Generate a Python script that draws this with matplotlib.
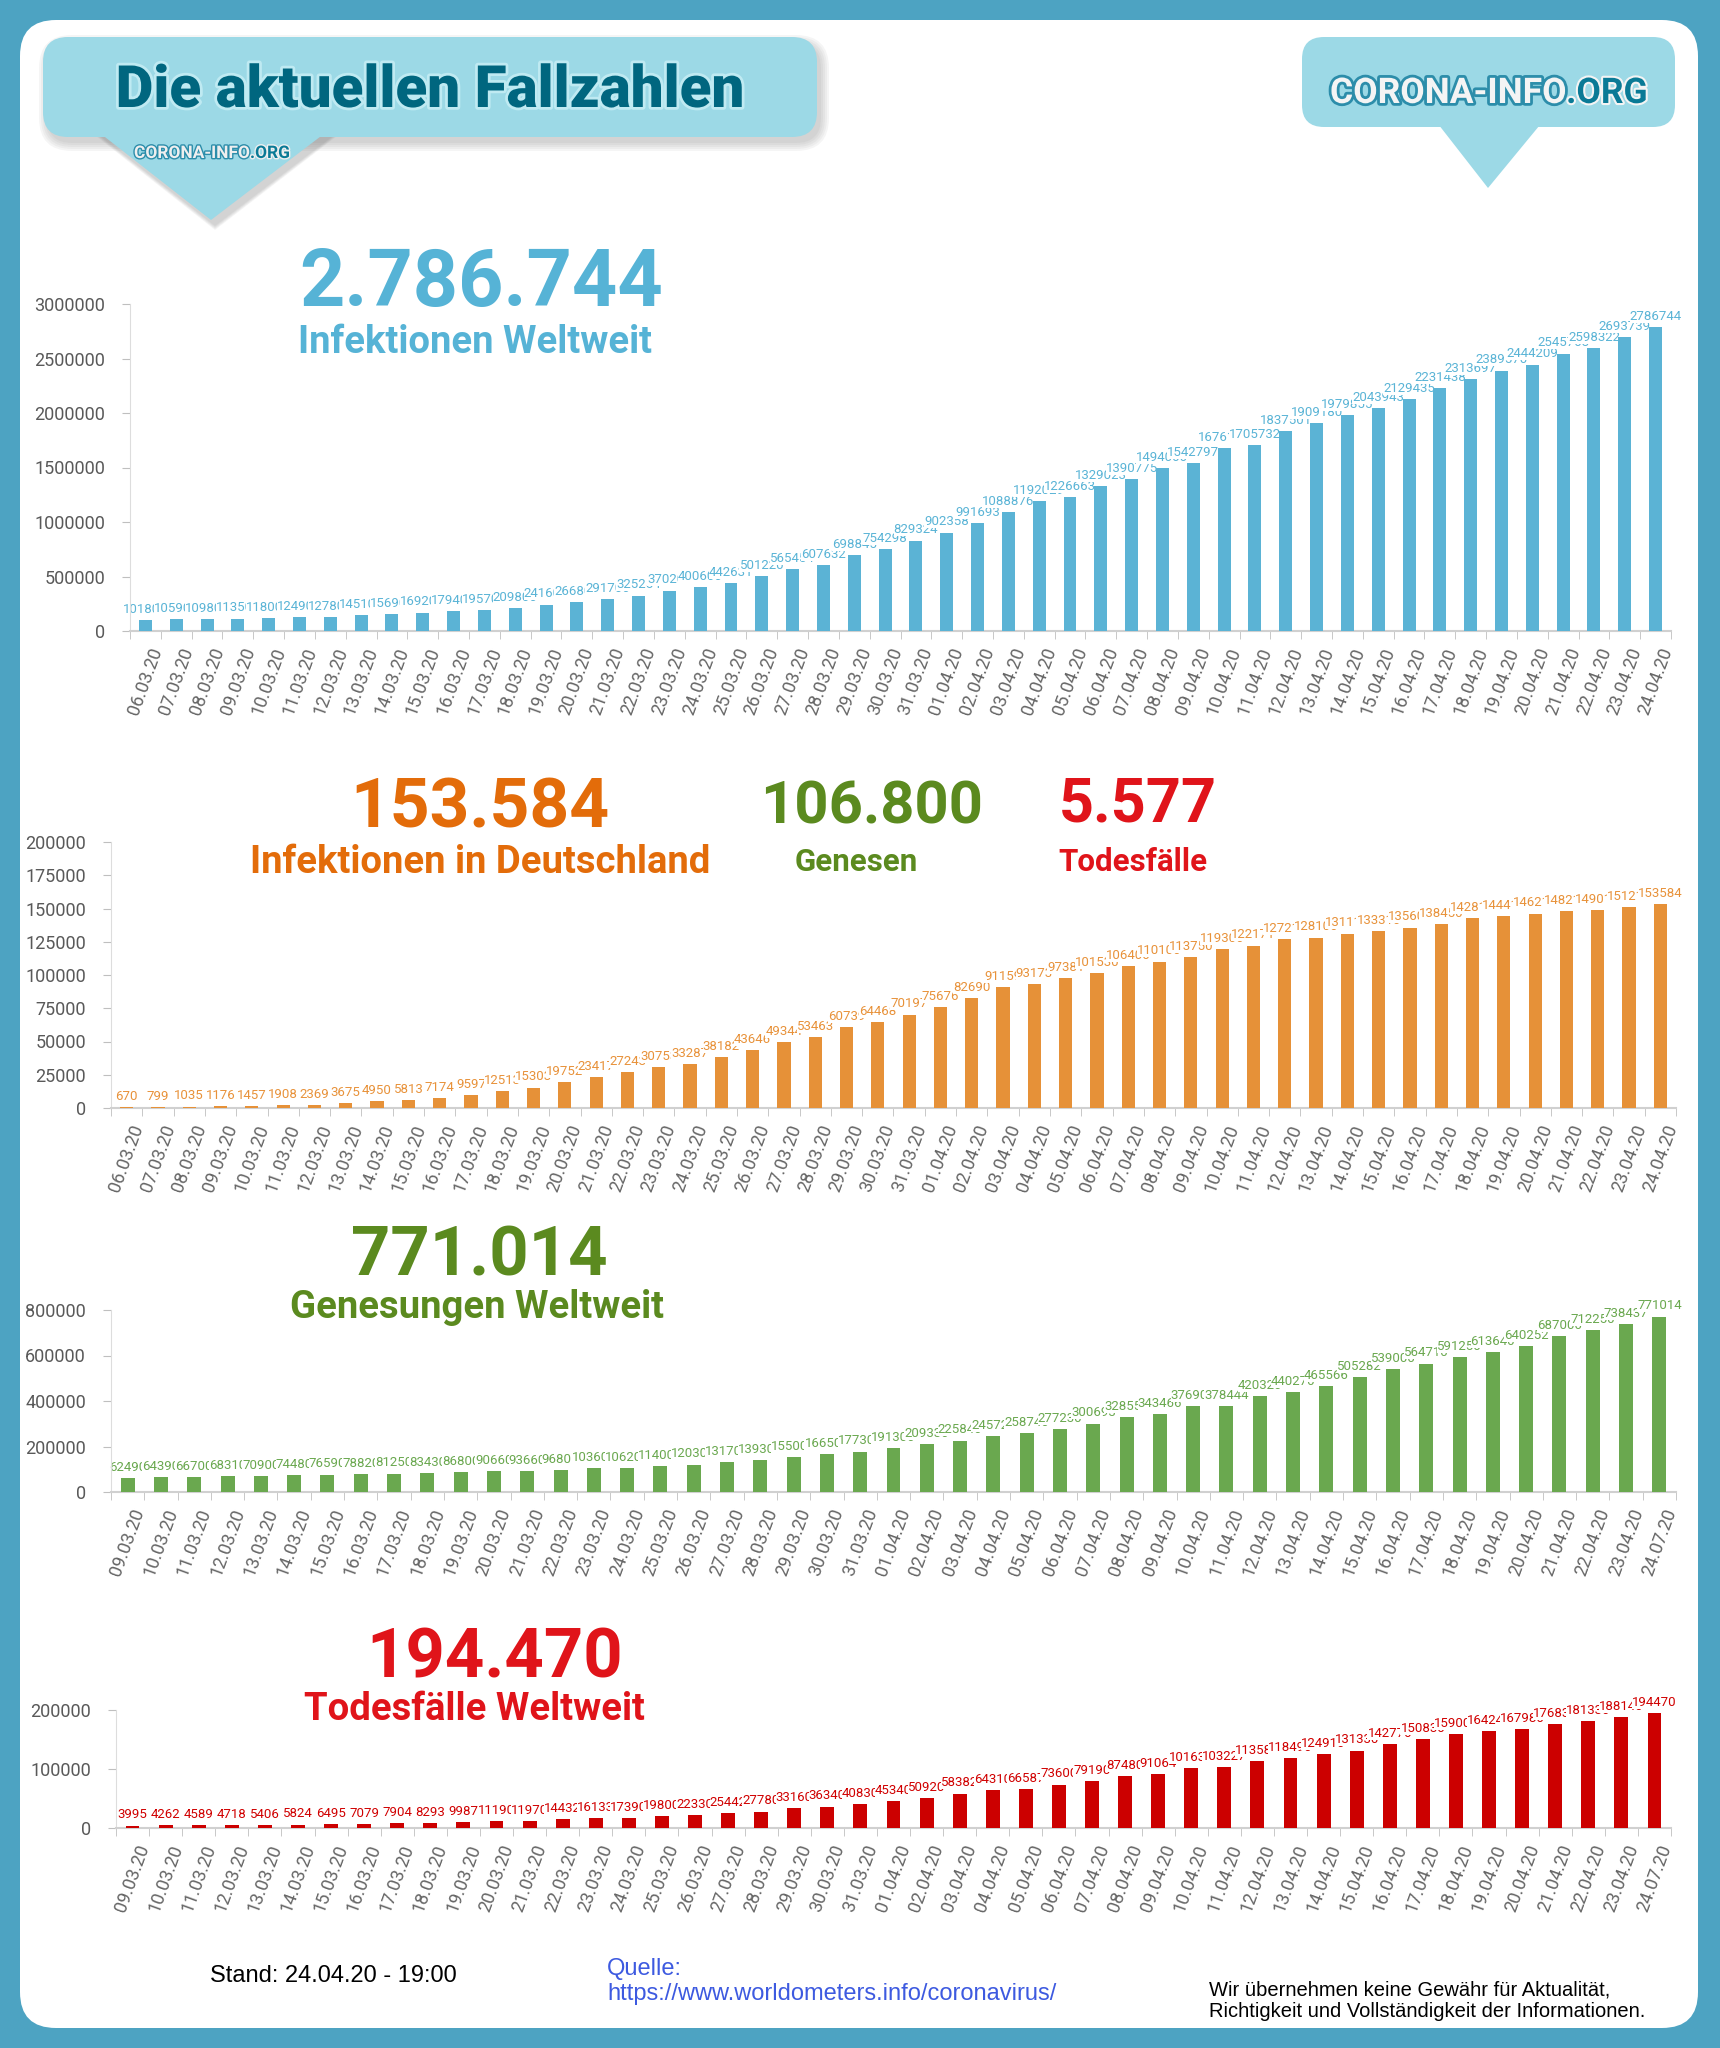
import matplotlib
matplotlib.use("Agg")
import numpy as np
import matplotlib.pyplot as plt
import matplotlib.patheffects as pe
from matplotlib.patches import FancyBboxPatch, Polygon
from matplotlib.ticker import FuncFormatter

plt.rcParams['font.family'] = ['Roboto', 'DejaVu Sans']

# ---- data ----
dates_a = ["06.03.20", "07.03.20", "08.03.20", "09.03.20", "10.03.20", "11.03.20", "12.03.20",
           "13.03.20", "14.03.20", "15.03.20", "16.03.20", "17.03.20", "18.03.20", "19.03.20",
           "20.03.20", "21.03.20", "22.03.20", "23.03.20", "24.03.20", "25.03.20", "26.03.20",
           "27.03.20", "28.03.20", "29.03.20", "30.03.20", "31.03.20", "01.04.20", "02.04.20",
           "03.04.20", "04.04.20", "05.04.20", "06.04.20", "07.04.20", "08.04.20", "09.04.20",
           "10.04.20", "11.04.20", "12.04.20", "13.04.20", "14.04.20", "15.04.20", "16.04.20",
           "17.04.20", "18.04.20", "19.04.20", "20.04.20", "21.04.20", "22.04.20", "23.04.20",
           "24.04.20"]

dates_b = ["09.03.20", "10.03.20", "11.03.20", "12.03.20", "13.03.20", "14.03.20", "15.03.20",
           "16.03.20", "17.03.20", "18.03.20", "19.03.20", "20.03.20", "21.03.20", "22.03.20",
           "23.03.20", "24.03.20", "25.03.20", "26.03.20", "27.03.20", "28.03.20", "29.03.20",
           "30.03.20", "31.03.20", "01.04.20", "02.04.20", "03.04.20", "04.04.20", "05.04.20",
           "06.04.20", "07.04.20", "08.04.20", "09.04.20", "10.04.20", "11.04.20", "12.04.20",
           "13.04.20", "14.04.20", "15.04.20", "16.04.20", "17.04.20", "18.04.20", "19.04.20",
           "20.04.20", "21.04.20", "22.04.20", "23.04.20", "24.07.20"]

infected_world = [101800, 105900, 109800, 113500, 118000, 124900, 127800, 145100, 156900, 169200,
                  179400, 195700, 209800, 241600, 266800, 291700, 325254, 370200, 400600, 442631,
                  501220, 565454, 607632, 698845, 754298, 829324, 902358, 991693, 1088876, 1192029,
                  1226663, 1329023, 1390775, 1494000, 1542797, 1676179, 1705732, 1837501, 1909180,
                  1979855, 2043943, 2129435, 2231438, 2313697, 2389570, 2444209, 2545703, 2598322,
                  2693739, 2786744]

infected_de = [670, 799, 1035, 1176, 1457, 1908, 2369, 3675, 4950, 5813, 7174, 9597, 12513, 15303,
               19752, 23417, 27243, 30753, 33287, 38182, 43646, 49344, 53463, 60739, 64468, 70197,
               75676, 82690, 91159, 93173, 97381, 101530, 106400, 110100, 113750, 119300, 122171,
               127210, 128100, 131110, 133310, 135600, 138450, 142810, 144410, 146210, 148210,
               149010, 151210, 153584]

recovered_world = [62490, 64390, 66700, 68310, 70900, 74480, 76590, 78820, 81250, 83430, 86800,
                   90660, 93660, 96800, 103600, 106200, 114000, 120300, 131700, 139300, 155000,
                   166500, 177300, 191300, 209330, 225840, 245720, 258740, 277230, 300693, 328550,
                   343466, 376900, 378444, 420320, 440270, 465566, 505282, 539000, 564710, 591250,
                   613640, 640252, 687000, 712250, 738437, 771014]

deaths_world = [3995, 4262, 4589, 4718, 5406, 5824, 6495, 7079, 7904, 8293, 9987, 11190, 11970,
                14432, 16133, 17390, 19800, 22330, 25442, 27780, 33160, 36340, 40830, 45340, 50920,
                58382, 64310, 66587, 73600, 79190, 87480, 91064, 101630, 103227, 113580, 118490,
                124910, 131330, 142770, 150830, 159000, 164240, 167980, 176830, 181330, 188140,
                194470]

W, H = 1720, 2048
fig = plt.figure(figsize=(W / 100, H / 100), dpi=100)
fig.patch.set_facecolor('#4DA3C2')

# full-figure axes in pixel coordinates for the decoration
bg = fig.add_axes([0, 0, 1, 1])
bg.set_xlim(0, W)
bg.set_ylim(H, 0)
bg.axis('off')

# white card
bg.add_patch(FancyBboxPatch((56, 56), 1606, 1936, boxstyle="round,pad=36",
                            fc='white', ec='none'))

bubble = '#9CD9E6'

# title bubble with soft shadow
for k in range(5):
    bg.add_patch(FancyBboxPatch((72, 68), 724, 50, boxstyle="round,pad=%d" % (25 + k * 2),
                                fc='#606060', ec='none', alpha=0.06))
    bg.add_patch(Polygon([(100 - k, 136), (333 + k, 136), (215, 226 + k)],
                         fc='#606060', ec='none', alpha=0.06))
bg.add_patch(FancyBboxPatch((68, 62), 724, 50, boxstyle="round,pad=25", fc=bubble, ec='none'))
bg.add_patch(Polygon([(96, 130), (329, 130), (211, 220)], fc=bubble, ec='none'))
bg.text(430, 107, "Die aktuellen Fallzahlen", ha='center', va='baseline', fontsize=42,
        fontweight='black', color='#00667F',
        path_effects=[pe.withStroke(linewidth=4, foreground='#BFEAF2')])

logo_font = ['Roboto', 'DejaVu Sans']
t1 = bg.text(134, 158, "CORONA-INFO", ha='left', va='baseline', fontsize=12.5, family=logo_font,
             fontweight='bold', color='#EFEFEF',
             path_effects=[pe.withStroke(linewidth=2, foreground='#2C8DAA')])
bg.annotate(".ORG", xy=(1, 0), xycoords=t1, ha='left', va='bottom', fontsize=12.5,
            family=logo_font, fontweight='bold', color='#0A7A96',
            path_effects=[pe.withStroke(linewidth=2, foreground='#EFEFEF')])

# logo bubble top right
bg.add_patch(FancyBboxPatch((1324, 59), 329, 46, boxstyle="round,pad=22", fc=bubble, ec='none'))
bg.add_patch(Polygon([(1435, 120), (1544, 120), (1488, 188)], fc=bubble, ec='none'))
t2 = bg.text(1330, 103, "CORONA-INFO", ha='left', va='baseline', fontsize=25.5, family=logo_font,
             fontweight='bold', color='#F4F4F4',
             path_effects=[pe.withStroke(linewidth=4, foreground='#2C8DAA')])
bg.annotate(".ORG", xy=(1, 0), xycoords=t2, ha='left', va='bottom', fontsize=25.5,
            family=logo_font, fontweight='bold', color='#0A7A96',
            path_effects=[pe.withStroke(linewidth=3, foreground='#F4F4F4')])

# headline numbers
blue, orange, green, red = '#56B3D6', '#E36C0A', '#5B8A1F', '#E0141A'
heads = [
    (481, 306, "2.786.744", 57, blue),
    (475, 353, "Infektionen Weltweit", 27.5, blue),
    (480, 827, "153.584", 50, orange),
    (480, 873, "Infektionen in Deutschland", 27.5, orange),
    (872, 823, "106.800", 43, green),
    (856, 871, "Genesen", 22.5, green),
    (1138, 822, "5.577", 44, red),
    (1133, 871, "Todesfälle", 22.5, red),
    (479, 1276, "771.014", 49.5, green),
    (477, 1318, "Genesungen Weltweit", 27.5, green),
    (495, 1678, "194.470", 49.5, red),
    (474, 1720, "Todesfälle Weltweit", 27.5, red),
]
for x, y, s, fs, c in heads:
    bg.text(x, y, s, ha='center', va='baseline', fontsize=fs, fontweight='bold', color=c)


def draw_chart(box, dates, values, ymax, ystep, bar_color, label_color):
    x0, x1, ytop, ybase = box
    ax = fig.add_axes([x0 / W, 1 - ybase / H, (x1 - x0) / W, (ybase - ytop) / H])
    ax.patch.set_alpha(0)
    idx = np.arange(len(values))
    ax.bar(idx, values, width=0.42, color=bar_color, zorder=3)
    for i, v in zip(idx, values):
        ax.annotate(str(v), (i, v), xytext=(0, 3), textcoords='offset points', ha='center',
                    va='bottom', fontsize=9.5, color=label_color, zorder=2,
                    bbox=dict(fc='white', ec='none', pad=0))
    ax.set_xlim(-0.5, len(values) - 0.5)
    ax.set_ylim(0, ymax)
    ax.set_yticks(np.arange(0, ymax + 1, ystep))
    ax.yaxis.set_major_formatter(FuncFormatter(lambda v, p: "%d" % v))
    ax.tick_params(axis='y', length=6, color='#BFBFBF', labelsize=13, labelcolor='#595959', pad=12)
    ax.set_xticks(idx)
    ax.set_xticklabels(dates, rotation=70, ha='center', fontsize=13, color='#666666')
    ax.set_xticks(np.arange(-0.5, len(values)), minor=True)
    ax.tick_params(axis='x', which='major', length=0, pad=10)
    ax.tick_params(axis='x', which='minor', length=6, color='#BFBFBF')
    for s in ['top', 'right']:
        ax.spines[s].set_visible(False)
    ax.spines['left'].set_color('#DDDDDD')
    ax.spines['bottom'].set_color('#D0D0D0')
    ax.spines['bottom'].set_linewidth(1.5)
    return ax


draw_chart((130, 1671, 304, 631), dates_a, infected_world, 3000000, 500000, '#5BB3D5', '#5AB4D6')
draw_chart((111, 1676, 842, 1108), dates_a, infected_de, 200000, 25000, '#E69138', '#E8923A')
draw_chart((111, 1676, 1310, 1492), dates_b, recovered_world, 800000, 200000, '#6AA84F', '#6AA84F')
draw_chart((116, 1671, 1710, 1828), dates_b, deaths_world, 200000, 100000, '#CC0000', '#D00000')

# footer
sans = ['Liberation Sans', 'DejaVu Sans']
bg.text(210, 1982, "Stand: 24.04.20 - 19:00", ha='left', va='baseline', fontsize=17,
        family=sans, color='black')
bg.text(607, 1975, "Quelle:", ha='left', va='baseline', fontsize=17, family=sans, color='#3D5AE0')
bg.text(607, 2000, "https://www.worldometers.info/coronavirus/", ha='left', va='baseline',
        fontsize=17, family=sans, color='#3D5AE0')
bg.text(1209, 1995, "Wir übernehmen keine Gewähr für Aktualität,", ha='left', va='baseline',
        fontsize=14.5, family=sans, color='black')
bg.text(1209, 2017, "Richtigkeit und Vollständigkeit der Informationen.", ha='left',
        va='baseline', fontsize=14.5, family=sans, color='black')

fig.savefig("out.png", dpi=100, facecolor=fig.get_facecolor())
